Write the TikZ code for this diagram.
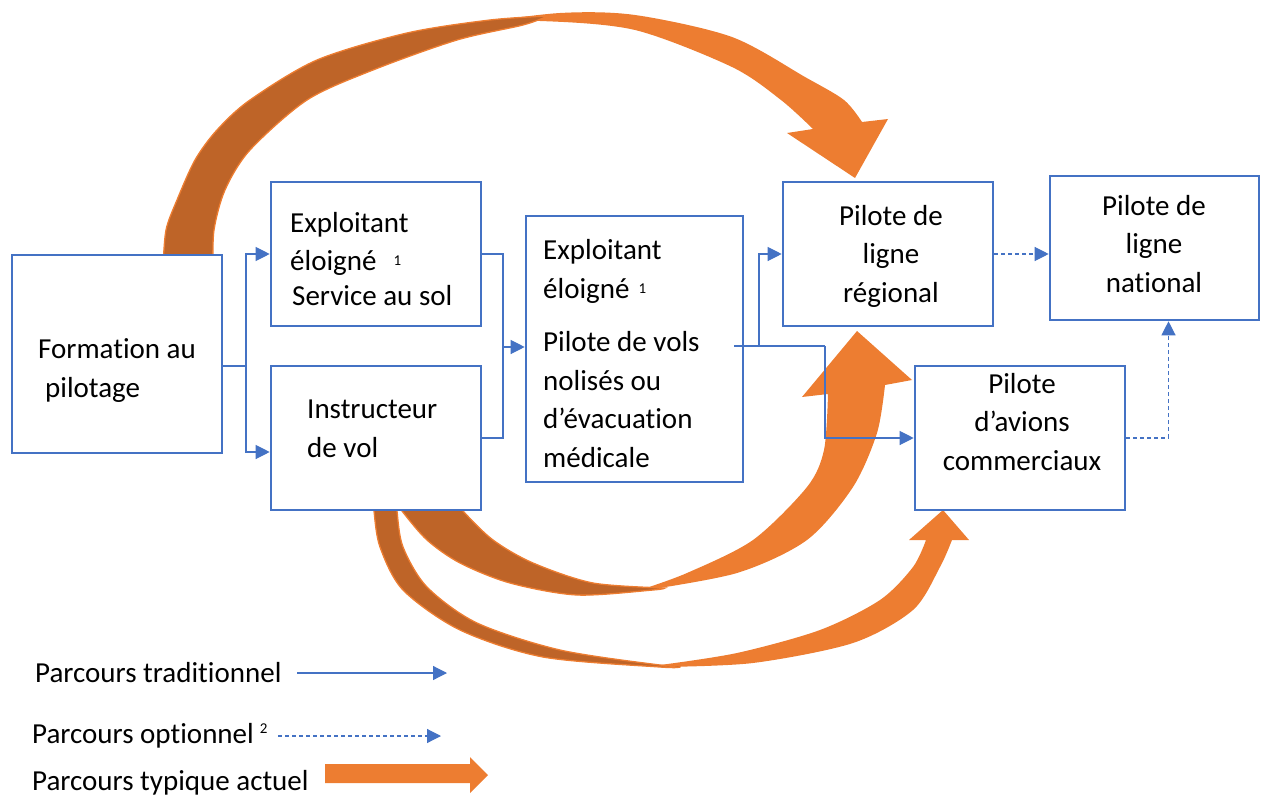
\documentclass[tikz,border=0pt]{standalone}
\usepackage{fontspec}
\setmainfont{Carlito}[Ligatures=NoCommon]
\usetikzlibrary{arrows.meta}
\definecolor{bl}{HTML}{4472C4}
\definecolor{og}{HTML}{ED7D31}
\definecolor{dk}{HTML}{BE6428}
\begin{document}
\begin{tikzpicture}[x=1pt,y=-1pt,
  box/.style={draw=bl,line width=2.6pt,fill=white,minimum width=210pt,minimum height=144pt,inner sep=0pt},
  txt/.style={inner sep=0pt,font=\fontsize{29}{38.5}\selectfont},
  conn/.style={draw=bl,line width=1.2pt},
  tip/.style={-{Triangle[length=14pt,width=14pt]}},
  dsh/.style={dash pattern=on 4pt off 3pt},
  light/.style={fill=og},
  dark/.style={fill=dk,draw=og,line width=1.3pt}
]
\useasboundingbox (0,0) rectangle (1261,797);

% ---- curved orange arrows (behind the boxes)
% arrow 1 : Formation -> Pilote de ligne regional
\path[light] plot[smooth] coordinates {(470,24) (560,13) (635,15) (732,37) (805,77) (844,100) (862,122)}
  -- (888,119) -- (855,178) -- (787,133) -- (813,129)
  -- plot[smooth] coordinates {(813,129) (781,100) (732,67) (635,30) (540,21) (470,24)} -- cycle;
\path[dark] plot[smooth] coordinates {(163,268) (166,230) (177,200) (195,160) (217,130) (250,100) (317,60) (407,33) (490,20) (548,16)}
  -- plot[smooth] coordinates {(548,16) (523,25) (457,40) (373,70) (307,100) (250,150) (225,190) (214,230) (213,268)} -- cycle;

% arrow 2 : Instructeur -> Pilote de ligne regional
\path[light] plot[smooth] coordinates {(640,591) (737,573) (807,540) (853,487) (877,433) (885,385)}
  -- (912,380) -- (857,331) -- (802,397) -- (828,394)
  -- plot[smooth] coordinates {(828,394) (824,450) (807,487) (753,540) (687,573) (640,590)} -- cycle;
\path[dark] plot[smooth] coordinates {(394,498) (402,511) (427,540) (460,563) (510,583) (577,595) (653,590) (665,588)}
  -- plot[smooth] coordinates {(665,588) (593,583) (533,563) (493,540) (463,511) (455,498)} -- cycle;

% arrow 3 : Instructeur -> Pilote d'avions commerciaux
\path[light] plot[smooth] coordinates {(660,667) (753,663) (853,643) (913,610) (940,567) (952,540)}
  -- (969,540) -- (943,510) -- (909,540) -- (926,540)
  -- plot[smooth] coordinates {(926,540) (913,567) (880,600) (820,630) (737,653) (660,665)} -- cycle;
\path[dark] plot[smooth] coordinates {(374,498) (374,511) (380,547) (403,590) (460,630) (543,657) (660,667) (680,667)}
  -- plot[smooth] coordinates {(680,665) (660,665) (560,650) (477,623) (427,587) (403,547) (397,511) (397,498)} -- cycle;

% ---- boxes
\node[box,minimum height=198pt] (f) at (117,354) {};
\node[box] (e1) at (376,254) {};
\node[box] (ins) at (376,438) {};
\node[box,minimum width=217pt,minimum height=266pt] (mid) at (634.5,349) {};
\node[box] (reg) at (888,254) {};
\node[box,minimum width=209pt] (nat) at (1154.5,248) {};
\node[box] (com) at (1020,438) {};

% ---- texts (base anchor = baseline of the last line)
\node[txt,anchor=base west,align=left] (tf) at (38,397) {Formation au\\\hspace*{7pt}pilotage};
\node[txt,anchor=base west,align=left] (te1) at (290,305) {Exploitant\\éloigné\hspace{17pt}\raisebox{5pt}{\fontsize{15}{15}\selectfont 1}\\[-4pt]\hspace*{2pt}Service au sol};
\node[txt,anchor=base west,align=left] (tins) at (307,457) {Instructeur\\de vol};
\node[txt,anchor=base west,align=left] (tmid) at (543,467) {Exploitant\\éloigné\hspace{9pt}\raisebox{5pt}{\fontsize{15}{15}\selectfont 1}\\[15pt]Pilote de vols\\nolisés ou\\d’évacuation\\médicale};
\node[txt,anchor=base,align=center] (treg) at (891,302) {Pilote de\\ligne\\régional};
\node[txt,anchor=base,align=center] (tnat) at (1154,292) {Pilote de\\ligne\\national};
\node[txt,anchor=base,align=center] (tcom) at (1022,470) {Pilote\\d’avions\\commerciaux};

% ---- connectors
\coordinate (j1) at (246,366);
\draw[conn] (f.east |- j1) -- (j1);
\draw[conn,tip] (j1) |- (e1.west);
\draw[conn,tip] (j1) |- ([yshift=-14pt]ins.west);
\coordinate (j2) at (503,347);
\draw[conn] (e1.east) -| (j2);
\draw[conn] (ins.east) -| (j2);
\draw[conn,tip] (j2) -- (mid.west |- j2);
\coordinate (m0) at (734,346);
\coordinate (j3) at (759,346);
\coordinate (j4) at (825,346);
\draw[conn] (m0) -- (j4);
\draw[conn,tip] (j3) |- (reg.west);
\draw[conn,tip] (j4) |- (com.west);
\draw[conn,dsh,tip] (reg.east) -- (nat.west |- reg.east);
\draw[conn,dsh,tip] (com.east) -| ([xshift=14pt]nat.south);

% ---- legend
\node[txt,anchor=base west] (lg1) at (35,682) {Parcours traditionnel};
\node[txt,anchor=base west] (lg2) at (32,743) {Parcours optionnel\hspace{6pt}\raisebox{10pt}{\fontsize{15}{15}\selectfont 2}};
\node[txt,anchor=base west] (lg3) at (32,790) {Parcours typique actuel};
\coordinate (l1a) at (297,673);
\coordinate (l1b) at (447,673);
\draw[conn,tip] (l1a) -- (l1b);
\coordinate (l2a) at (278,736);
\coordinate (l2b) at (441,736);
\draw[conn,dsh,tip] (l2a) -- (l2b);
\fill[og] (325,764) -- (470,764) -- (470,757) -- (488,775) -- (470,793) -- (470,783) -- (325,783) -- cycle;
\end{tikzpicture}
\end{document}
